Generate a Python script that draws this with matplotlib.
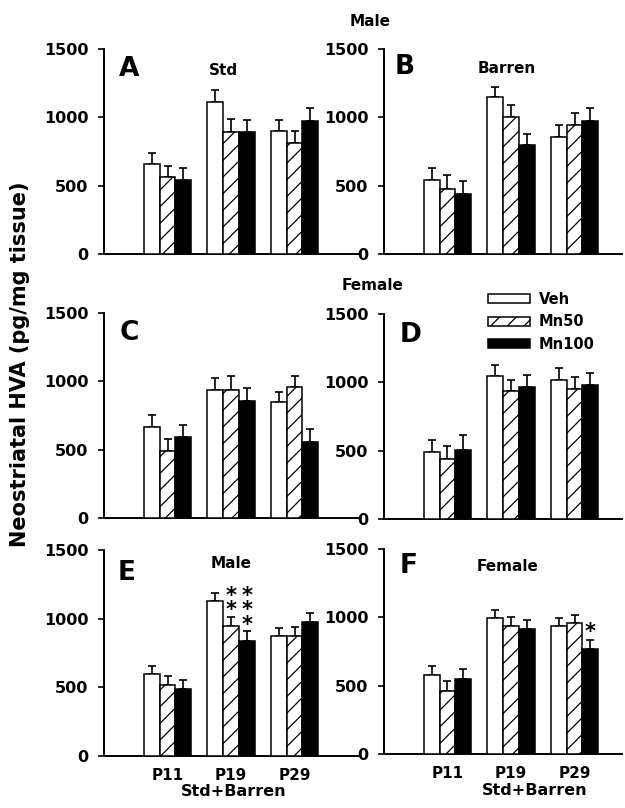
import matplotlib
matplotlib.use("Agg")
import matplotlib.pyplot as plt
import numpy as np

plt.rcParams["font.family"] = "DejaVu Sans"
plt.rcParams["font.weight"] = "bold"
plt.rcParams["hatch.linewidth"] = 0.9

groups = ["P11", "P19", "P29"]
series = ["Veh", "Mn50", "Mn100"]

# mean values (pg/mg tissue) and upper SEM
A_veh, A_veh_err = [659, 1115, 900], [82, 87, 78]
A_mn50, A_mn50_err = [561, 895, 812], [83, 90, 88]
A_mn100, A_mn100_err = [541, 895, 976], [91, 85, 92]

B_veh, B_veh_err = [544, 1146, 854], [88, 78, 87]
B_mn50, B_mn50_err = [478, 1005, 944], [98, 83, 88]
B_mn100, B_mn100_err = [441, 798, 973], [91, 80, 98]

C_veh, C_veh_err = [666, 939, 846], [88, 88, 78]
C_mn50, C_mn50_err = [488, 939, 959], [90, 98, 82]
C_mn100, C_mn100_err = [593, 859, 559], [87, 95, 92]

D_veh, D_veh_err = [493, 1049, 1020], [85, 80, 87]
D_mn50, D_mn50_err = [439, 937, 951], [95, 83, 90]
D_mn100, D_mn100_err = [505, 963, 980], [110, 91, 91]

E_veh, E_veh_err = [598, 1129, 873], [58, 59, 59]
E_mn50, E_mn50_err = [517, 946, 873], [63, 64, 64]
E_mn100, E_mn100_err = [490, 841, 973], [66, 66, 68]

F_veh, F_veh_err = [580, 995, 937], [61, 59, 58]
F_mn50, F_mn50_err = [463, 939, 959], [69, 66, 61]
F_mn100, F_mn100_err = [551, 912, 771], [71, 66, 66]

# significance stars: (group index, series index, y value of each star)
E_stars = [(1, 1, [1190, 1080]), (1, 2, [1190, 1080, 976])]
F_stars = [(2, 2, [917])]

W, H = 625, 808
fig = plt.figure(figsize=(W / 100, H / 100), dpi=100)


def px_axes(left, right, top, bottom):
    return fig.add_axes([left / W, 1 - bottom / H, (right - left) / W, (bottom - top) / H])


styles = [
    dict(facecolor="white", edgecolor="black", hatch=None),
    dict(facecolor="white", edgecolor="black", hatch="//"),
    dict(facecolor="black", edgecolor="black", hatch=None),
]
bw = 0.25


def panel(ax, vals, errs, xmax, letter, letter_pos, sub=None, sub_pos=None,
          bottom_row=False, stars=()):
    x = np.arange(1, len(groups) + 1)
    bars = []
    for i, (v, e) in enumerate(zip(vals, errs)):
        xi = x + (i - 1) * bw
        b = ax.bar(xi, v, bw, linewidth=1.1, zorder=3, **styles[i])
        ax.errorbar(xi, v, yerr=[np.zeros(len(v)), e], fmt="none", ecolor="black",
                    elinewidth=1.2, capsize=3.2, capthick=1.2, zorder=2)
        bars.append(b)
    for g, s, ys in stars:
        ax.text(x[g] + (s - 1) * bw, np.mean(ys) - 22, "\n".join("*" * len(ys)),
                ha="center", va="center", fontsize=15, fontweight="bold",
                linespacing=0.64, zorder=4)
    ax.set_xlim(0, xmax)
    ax.set_ylim(0, 1500)
    ax.set_yticks([0, 500, 1000, 1500])
    ax.set_xticks(x)
    ax.set_xticklabels(groups if bottom_row else [])
    ax.tick_params(axis="y", direction="out", length=4.3, width=1.2, pad=7, labelsize=11.5)
    ax.tick_params(axis="x", length=0, pad=9, labelsize=11)
    for sp in ["top", "right"]:
        ax.spines[sp].set_visible(False)
    for sp in ["left", "bottom"]:
        ax.spines[sp].set_linewidth(1.4)
    ax.text(letter_pos[0], letter_pos[1], letter, transform=ax.transAxes,
            fontsize=19, fontweight="bold", ha="left", va="center")
    if sub:
        ax.text(sub_pos[0], sub_pos[1], sub, transform=ax.transAxes,
                fontsize=11, fontweight="bold", ha="center", va="center")
    return bars


axA = px_axes(104, 358, 49, 254)
axB = px_axes(384, 622, 49, 254)
axC = px_axes(104, 358, 313, 518)
axD = px_axes(384, 622, 314, 519)
axE = px_axes(104, 358, 550, 756)
axF = px_axes(384, 622, 549, 754)

xr = 238 / 63.5
panel(axA, [A_veh, A_mn50, A_mn100], [A_veh_err, A_mn50_err, A_mn100_err], 4,
      "A", (0.06, 0.90), "Std", (0.47, 0.896))
panel(axB, [B_veh, B_mn50, B_mn100], [B_veh_err, B_mn50_err, B_mn100_err], xr,
      "B", (0.045, 0.91), "Barren", (0.517, 0.905))
panel(axC, [C_veh, C_mn50, C_mn100], [C_veh_err, C_mn50_err, C_mn100_err], 4,
      "C", (0.06, 0.90))
bars = panel(axD, [D_veh, D_mn50, D_mn100], [D_veh_err, D_mn50_err, D_mn100_err], xr,
             "D", (0.065, 0.898))
panel(axE, [E_veh, E_mn50, E_mn100], [E_veh_err, E_mn50_err, E_mn100_err], 4,
      "E", (0.055, 0.888), "Male", (0.5, 0.935), bottom_row=True, stars=E_stars)
panel(axF, [F_veh, F_mn50, F_mn100], [F_veh_err, F_mn50_err, F_mn100_err], xr,
      "F", (0.065, 0.915), "Female", (0.52, 0.915), bottom_row=True, stars=F_stars)

axE.set_xlabel("Std+Barren", fontsize=11.5, fontweight="bold")
axF.set_xlabel("Std+Barren", fontsize=11.5, fontweight="bold")
axE.xaxis.set_label_coords(0.51, -0.135)
axF.xaxis.set_label_coords(0.634, -0.14)

fig.text(370 / W, 1 - 22 / H, "Male", fontsize=11, fontweight="bold", ha="center", va="center")
fig.text(373 / W, 1 - 286 / H, "Female", fontsize=11, fontweight="bold", ha="center", va="center")
fig.text(20 / W, 1 - 364 / H, "Neostriatal HVA (pg/mg tissue)", rotation=90,
         fontsize=15, fontweight="bold", ha="center", va="center")

fig.legend([b[0] for b in bars], series, loc="upper left",
           bbox_to_anchor=(488 / W, 1 - 292 / H), frameon=False, borderpad=0,
           borderaxespad=0, handlelength=2.9, handleheight=0.55, handletextpad=0.6,
           labelspacing=0.5, prop=dict(size=10.5, weight="bold"))

fig.savefig("out.png", dpi=100)
